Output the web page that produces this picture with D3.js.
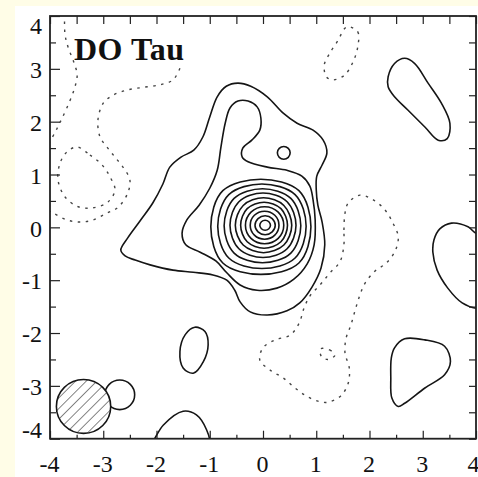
<!DOCTYPE html>
<html>
<head>
<meta charset="utf-8">
<script src="https://cdn.jsdelivr.net/npm/d3@7"></script>
<style>
  html, body { margin: 0; padding: 0; background: #fffde7; }
  svg { display: block; }
</style>
</head>
<body>
<div id="chart"></div>
<script>
// --- tick values and label
const majorTicks = [-4, -3, -2, -1, 0, 1, 2, 3, 4];
const minorTicks = [-3.5, -2.5, -1.5, -0.5, 0.5, 1.5, 2.5, 3.5];
const title = "DO Tau";

// --- positive contours (solid), points [x, y]
const outerContour = [
  [-2.67, -0.43], [-2.54, -0.20], [-2.31, 0.12], [-2.07, 0.46], [-1.88, 0.82], [-1.75, 1.14],
  [-1.54, 1.33], [-1.30, 1.46], [-1.13, 1.71], [-1.00, 2.09], [-0.86, 2.47], [-0.69, 2.67],
  [-0.47, 2.73], [-0.23, 2.67], [0.08, 2.47], [0.38, 2.16], [0.64, 1.97], [0.94, 1.84],
  [1.13, 1.65], [1.20, 1.41], [1.11, 1.18], [1.01, 0.97], [1.00, 0.71], [1.03, 0.42],
  [1.11, 0.10], [1.16, -0.33], [1.09, -0.77], [0.92, -1.13], [0.69, -1.43], [0.45, -1.58],
  [0.08, -1.66], [-0.24, -1.60], [-0.43, -1.41], [-0.53, -1.19], [-0.68, -1.00], [-0.94, -0.90],
  [-1.31, -0.85], [-1.69, -0.81], [-2.12, -0.71], [-2.40, -0.62], [-2.59, -0.54]
];
const secondContour = [
  [-0.47, 2.39], [-0.28, 2.39], [-0.11, 2.28], [-0.04, 2.07], [-0.06, 1.84], [-0.21, 1.65],
  [-0.38, 1.50], [-0.39, 1.33], [-0.28, 1.24], [0.08, 1.14], [0.45, 1.08], [0.73, 0.97],
  [0.88, 0.78], [0.94, 0.52], [0.98, 0.14], [0.96, -0.33], [0.83, -0.69], [0.58, -0.98],
  [0.26, -1.15], [-0.11, -1.19], [-0.43, -1.09], [-0.68, -0.86], [-0.88, -0.64], [-1.18, -0.47],
  [-1.45, -0.33], [-1.52, -0.11], [-1.43, 0.14], [-1.20, 0.42], [-1.00, 0.74], [-0.86, 1.08],
  [-0.79, 1.52], [-0.71, 1.97], [-0.62, 2.26]
];
const blobTopRight = [
  [2.35, 2.85], [2.47, 3.10], [2.66, 3.20], [2.85, 3.10], [3.10, 2.73], [3.35, 2.35],
  [3.51, 1.97], [3.46, 1.68], [3.29, 1.65], [3.04, 1.90], [2.72, 2.22], [2.47, 2.47], [2.35, 2.66]
];
const blobRightEdge = [
  [4.00, -0.11], [3.85, 0.01], [3.54, 0.08], [3.32, -0.03], [3.21, -0.24], [3.19, -0.47],
  [3.27, -0.81], [3.47, -1.15], [3.74, -1.43], [4.00, -1.53], [4.30, -1.50], [4.40, -0.80], [4.30, -0.15]
];
const blobLowerRight = [
  [2.47, -2.28], [2.66, -2.11], [3.04, -2.13], [3.41, -2.25], [3.52, -2.54], [3.41, -2.79],
  [3.04, -3.04], [2.66, -3.33], [2.54, -3.39], [2.42, -3.23], [2.40, -2.85], [2.41, -2.47]
];
const blobLowerLeft = [
  [-1.28, -1.89], [-1.09, -1.97], [-1.03, -2.22], [-1.12, -2.54], [-1.31, -2.76], [-1.50, -2.66],
  [-1.56, -2.35], [-1.46, -2.03]
];
const arcBottom = [
  [-2.03, -3.99], [-1.87, -3.74], [-1.50, -3.48], [-1.25, -3.55], [-1.06, -3.83], [-1.00, -4.10],
  [-1.20, -4.40], [-1.80, -4.40], [-2.10, -4.10]
];

// --- concentric rings round the peak
const ringCx = [0.04, 0.04, 0.03, 0.03, 0.02, 0.01, 0.00, -0.01, -0.02, -0.04];
const ringCy = [0.04, 0.04, 0.04, 0.04, 0.04, 0.04, 0.04, 0.03, 0.02, 0.01];
const ringRx = [0.10, 0.19, 0.27, 0.36, 0.44, 0.53, 0.62, 0.72, 0.83, 0.94];
const ringRy = [0.095, 0.18, 0.265, 0.35, 0.435, 0.52, 0.61, 0.70, 0.80, 0.90];
const ringK = [0.70, 0.70, 0.71, 0.71, 0.72, 0.72, 0.73, 0.74, 0.75, 0.76];

// small round contours: centre and radius
const smallCircles = [
  { x: 0.39, y: 1.41, r: 0.12 },
  { x: -2.69, y: -3.17, r: 0.28 }
];

// --- negative contours (dashed)
const dashLeftA = [
  [-3.72, 4.20], [-3.72, 3.67], [-3.66, 3.41], [-3.55, 3.12], [-3.49, 2.88], [-3.55, 2.60],
  [-3.68, 2.27], [-3.81, 1.99], [-3.91, 1.79], [-4.10, 1.45]
];
const dashLeftB = [
  [-1.56, 3.01], [-1.69, 2.79], [-1.93, 2.70], [-2.25, 2.65], [-2.55, 2.60], [-2.82, 2.50],
  [-3.00, 2.35], [-3.10, 2.03], [-3.06, 1.71], [-2.93, 1.52], [-2.78, 1.33], [-2.63, 1.14],
  [-2.50, 0.90], [-2.54, 0.65], [-2.72, 0.38], [-2.93, 0.27], [-3.19, 0.14], [-3.44, 0.10],
  [-3.68, 0.14], [-3.94, 0.27], [-4.15, 0.38]
];
const dashLoopLeft = [
  [-3.49, 1.52], [-3.25, 1.37], [-3.02, 1.18], [-2.87, 0.95], [-2.78, 0.71], [-2.91, 0.48],
  [-3.19, 0.37], [-3.47, 0.39], [-3.72, 0.58], [-3.85, 0.90], [-3.81, 1.22], [-3.68, 1.43]
];
const dashTop = [
  [1.60, 3.80], [1.78, 3.70], [1.78, 3.42], [1.69, 3.13], [1.53, 2.88], [1.31, 2.79],
  [1.19, 2.85], [1.15, 3.07], [1.25, 3.29], [1.41, 3.54], [1.53, 3.76]
];
const dashBig = [
  [1.52, -0.32], [1.52, -0.05], [1.54, 0.27], [1.60, 0.46], [1.82, 0.61], [2.07, 0.52],
  [2.29, 0.33], [2.44, 0.08], [2.54, -0.18], [2.48, -0.45], [2.31, -0.68], [2.10, -0.83],
  [1.92, -1.05], [1.82, -1.28], [1.73, -1.57], [1.65, -1.85], [1.56, -2.10], [1.54, -2.38],
  [1.62, -2.66], [1.60, -2.95], [1.46, -3.19], [1.22, -3.31], [1.03, -3.29], [0.81, -3.19],
  [0.60, -3.04], [0.38, -2.85], [0.13, -2.70], [-0.06, -2.51], [0.00, -2.28], [0.23, -2.13],
  [0.51, -2.04], [0.68, -1.81], [0.77, -1.53], [0.88, -1.30], [1.07, -1.09], [1.26, -0.86],
  [1.45, -0.64]
];
const dashSmall = [
  [1.08, -2.30], [1.25, -2.32], [1.35, -2.42], [1.22, -2.50], [1.10, -2.45]
];

// beam (hatched circle, lower left)
const beam = { x: -3.37, y: -3.39, r: 0.51 };

// --- layout
const W = 478, H = 477;
const plotLeft = 50, plotRight = 476, plotTop = 16, plotBottom = 438.7;

const svg = d3.select("#chart")
  .append("svg")
  .attr("width", W)
  .attr("height", H);

// white panel on the yellow page
svg.append("rect")
  .attr("x", 15).attr("y", 6)
  .attr("width", W - 15).attr("height", H - 6)
  .attr("fill", "#ffffff");

const x = d3.scaleLinear().domain([-4, 4]).range([plotLeft, plotRight]);
const y = d3.scaleLinear().domain([-4, 4]).range([plotBottom, plotTop]);

const defs = svg.append("defs");
defs.append("clipPath").attr("id", "plotClip")
  .append("rect")
  .attr("x", plotLeft).attr("y", plotTop)
  .attr("width", plotRight - plotLeft).attr("height", plotBottom - plotTop);

const hatch = defs.append("pattern")
  .attr("id", "hatch")
  .attr("patternUnits", "userSpaceOnUse")
  .attr("width", 7.5).attr("height", 7.5)
  .attr("patternTransform", "rotate(45)");
hatch.append("line")
  .attr("x1", 0).attr("y1", 0).attr("x2", 0).attr("y2", 7.5)
  .attr("stroke", "#222").attr("stroke-width", 1.1);

const plot = svg.append("g").attr("clip-path", "url(#plotClip)");

const closedLine = d3.line()
  .x(d => x(d[0]))
  .y(d => y(d[1]))
  .curve(d3.curveCatmullRomClosed.alpha(0.5));

const openLine = d3.line()
  .x(d => x(d[0]))
  .y(d => y(d[1]))
  .curve(d3.curveCatmullRom.alpha(0.5));

const solidStyle = g => g
  .attr("fill", "none")
  .attr("stroke", "#151515")
  .attr("stroke-width", 1.6);

const dashStyle = g => g
  .attr("fill", "none")
  .attr("stroke", "#444")
  .attr("stroke-width", 1.4)
  .attr("stroke-dasharray", "2.5,5.5");

// solid contours
const closedSolid = [outerContour, secondContour, blobTopRight, blobRightEdge,
  blobLowerRight, blobLowerLeft, arcBottom];
plot.selectAll("path.pos")
  .data(closedSolid)
  .join("path")
  .attr("class", "pos")
  .attr("d", closedLine)
  .call(solidStyle);

// rings: 8 points per ring from the read extents
const rings = ringRx.map((rx, i) => {
  const cx = ringCx[i], cy = ringCy[i], ry = ringRy[i], k = ringK[i];
  return [
    [cx + rx, cy], [cx + k * rx, cy + k * ry], [cx, cy + ry], [cx - k * rx, cy + k * ry],
    [cx - rx, cy], [cx - k * rx, cy - k * ry], [cx, cy - ry], [cx + k * rx, cy - k * ry]
  ];
});
plot.selectAll("path.ring")
  .data(rings)
  .join("path")
  .attr("class", "ring")
  .attr("d", closedLine)
  .call(solidStyle);

plot.selectAll("ellipse.small")
  .data(smallCircles)
  .join("ellipse")
  .attr("class", "small")
  .attr("cx", d => x(d.x))
  .attr("cy", d => y(d.y))
  .attr("rx", d => x(d.r) - x(0))
  .attr("ry", d => y(0) - y(d.r))
  .call(solidStyle);

// dashed contours
plot.selectAll("path.negc")
  .data([dashLoopLeft, dashTop, dashBig, dashSmall])
  .join("path")
  .attr("class", "negc")
  .attr("d", closedLine)
  .call(dashStyle);

plot.selectAll("path.nego")
  .data([dashLeftA, dashLeftB])
  .join("path")
  .attr("class", "nego")
  .attr("d", openLine)
  .call(dashStyle);

// beam
plot.append("ellipse")
  .attr("cx", x(beam.x))
  .attr("cy", y(beam.y))
  .attr("rx", x(beam.r) - x(0))
  .attr("ry", y(0) - y(beam.r))
  .attr("fill", "#fff")
  .attr("stroke", "#151515")
  .attr("stroke-width", 1.6);
plot.append("ellipse")
  .attr("cx", x(beam.x))
  .attr("cy", y(beam.y))
  .attr("rx", x(beam.r) - x(0))
  .attr("ry", y(0) - y(beam.r))
  .attr("fill", "url(#hatch)")
  .attr("stroke", "none");

// --- axes (ticks point inward)
const fontFam = "'Liberation Serif', 'Times New Roman', serif";
const styleAxis = g => {
  g.select(".domain").remove();
  g.selectAll("line").attr("stroke", "#222").attr("stroke-width", 1.2);
  g.selectAll("text")
    .attr("fill", "#111")
    .style("font-family", fontFam)
    .style("font-size", "24px");
};

svg.append("g")
  .attr("transform", `translate(0,${plotBottom})`)
  .call(d3.axisBottom(x).tickValues(majorTicks).tickSize(-8).tickSizeOuter(0)
    .tickPadding(16).tickFormat(d => String(d)))
  .call(styleAxis)
  .call(g => g.selectAll("text").attr("dx", d => d === 4 ? -3 : -1));

svg.append("g")
  .attr("transform", `translate(0,${plotBottom})`)
  .call(d3.axisBottom(x).tickValues(minorTicks).tickSize(-4).tickSizeOuter(0).tickFormat(""))
  .call(styleAxis);

svg.append("g")
  .attr("transform", `translate(${plotLeft},0)`)
  .call(d3.axisLeft(y).tickValues(majorTicks).tickSize(-10).tickSizeOuter(0)
    .tickPadding(8).tickFormat(d => String(d)))
  .call(styleAxis)
  .call(g => g.selectAll("text")
    .attr("y", d => d === 4 ? 10 : d === -4 ? -9 : 1));

svg.append("g")
  .attr("transform", `translate(${plotLeft},0)`)
  .call(d3.axisLeft(y).tickValues(minorTicks).tickSize(-6).tickSizeOuter(0).tickFormat(""))
  .call(styleAxis);

svg.append("g")
  .attr("transform", `translate(0,${plotTop})`)
  .call(d3.axisTop(x).tickValues(majorTicks.concat(minorTicks)).tickSize(-8).tickSizeOuter(0).tickFormat(""))
  .call(styleAxis);

svg.append("g")
  .attr("transform", `translate(${plotRight},0)`)
  .call(d3.axisRight(y).tickValues(majorTicks.concat(minorTicks)).tickSize(-7).tickSizeOuter(0).tickFormat(""))
  .call(styleAxis);

// frame
svg.append("rect")
  .attr("x", plotLeft).attr("y", plotTop)
  .attr("width", plotRight - plotLeft).attr("height", plotBottom - plotTop)
  .attr("fill", "none")
  .attr("stroke", "#222")
  .attr("stroke-width", 1.8);

// title
svg.append("text")
  .attr("x", 74)
  .attr("y", 60)
  .text(title)
  .attr("fill", "#111")
  .style("font-family", fontFam)
  .style("font-weight", "bold")
  .style("font-size", "32px")
  .style("letter-spacing", "0.5px");
</script>
</body>
</html>
